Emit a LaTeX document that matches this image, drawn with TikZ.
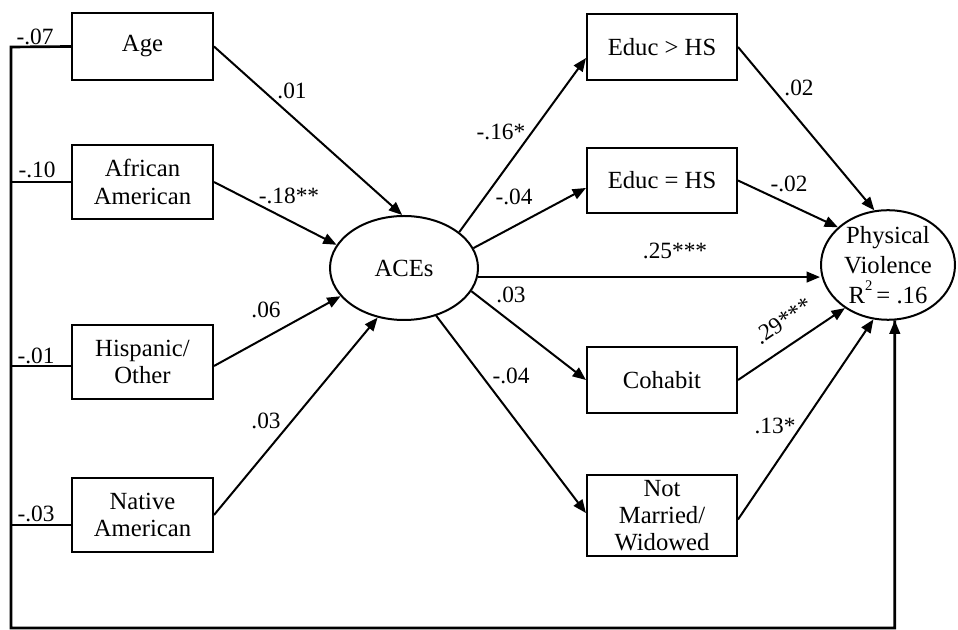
\documentclass[tikz,border=0pt]{standalone}
\usepackage{fontspec}
\setmainfont{Liberation Serif}
\usetikzlibrary{arrows.meta,shapes.geometric}
\begin{document}
\begin{tikzpicture}[x=0.75pt,y=-0.75pt,
  every node/.style={font=\fontsize{17.5}{20}\selectfont},
  box/.style={draw,line width=1.5pt,rectangle,inner sep=0pt,align=center,font=\fontsize{18.5}{20.5}\selectfont},
  lbox/.style={box,minimum width=105.75pt},
  rbox/.style={box,minimum width=112.5pt},
  oval/.style={draw,line width=1.5pt,ellipse,inner sep=0pt,align=center},
  arr/.style={line width=1.5pt,-{Triangle[length=10pt,width=8pt]}},
  ln/.style={line width=2pt},
  lab/.style={inner sep=0pt}]
\useasboundingbox (0,0) rectangle (958,630);
% left boxes
\node[lbox,minimum height=50.25pt] (age) at (142.5,46.5) {Age};
\node[lbox,minimum height=55.5pt] (afr) at (142.5,182) {African\\American};
\node[lbox,minimum height=55.5pt] (his) at (142.5,362) {Hispanic/\\Other};
\node[lbox,minimum height=55.5pt] (nat) at (142.5,515) {Native\\American};
% ellipses
\node[oval,minimum width=111pt,minimum height=78pt,font=\fontsize{18.5}{20.5}\selectfont] (aces) at (404,268) {ACEs};
\node[oval,minimum width=100.5pt,minimum height=81pt,font=\fontsize{18.5}{22.5}\selectfont] (pv) at (888,265)
  {Physical\\Violence\\R\raisebox{1.1ex}{\fontsize{11}{11}\selectfont 2}\,= .16};
% right boxes
\node[rbox,minimum height=49.5pt] (egt) at (662,47) {Educ {>} HS};
\node[rbox,minimum height=48.75pt] (eeq) at (662,180.5) {Educ = HS};
\node[rbox,minimum height=49.5pt] (coh) at (662,380) {Cohabit};
\node[rbox,minimum height=60.75pt] (nmw) at (662,515.5) {Not\\Married/\\Widowed};
% left spine
\coordinate (tl) at (11,47);
\coordinate (bl) at (11,628);
\draw[ln] (age.west) -- (tl) -- (bl) -| (pv.277);
\draw[arr] (bl -| pv.277) -- (pv.277);
\draw[ln] (afr.west) -- (afr.west -| tl);
\draw[ln] ([yshift=-3pt]his.west) -- ([yshift=-3pt]his.west -| tl);
\draw[ln] ([yshift=-7.5pt]nat.west) -- ([yshift=-7.5pt]nat.west -| tl);
% left arrows
\draw[arr] (age.east) -- (aces.92);
\draw[arr] (afr.east) -- (aces.161);
\draw[arr] ([yshift=-3pt]his.east) -- (aces.204);
\draw[arr] (nat.east) -- (aces.242);
% aces out
\draw[arr] (aces.33) -- ([yshift=-8.25pt]egt.west);
\draw[arr] (aces.16) -- ([yshift=-5.6pt]eeq.west);
\draw[arr] (aces.-7) -- (aces.-7 -| pv.west);
\draw[arr] (aces.-19) -- (coh.west);
\draw[arr] (aces.-56.6) -- ([yshift=1.8pt]nmw.west);
% right to pv
\draw[arr] (egt.east) -- (pv.104);
\draw[arr] (eeq.east) -- (pv.143);
\draw[arr] (coh.east) -- (pv.225);
\draw[arr] ([yshift=-3pt]nmw.east) -- (pv.255);
% labels
\node[lab] (l1) at (35,37) {-.07};
\node[lab] (l2) at (37,170) {-.10};
\node[lab] (l3) at (36,356) {-.01};
\node[lab] (l4) at (36,514) {-.03};
\node[lab] (l5) at (292,91) {.01};
\node[lab] (l6) at (289,196) {-.18**};
\node[lab] (l7) at (266,310) {.06};
\node[lab] (l8) at (266,421) {.03};
\node[lab] (l9) at (501,132) {-.16*};
\node[lab] (l10) at (514,197) {-.04};
\node[lab] (l11) at (675,251) {.25***};
\node[lab] (l12) at (511,295) {.03};
\node[lab] (l13) at (511,376) {-.04};
\node[lab] (l14) at (799,88) {.02};
\node[lab] (l15) at (789,184) {-.02};
\node[lab,rotate=34] (l16) at (783,321) {.29***};
\node[lab] (l17) at (775,426) {.13*};
\end{tikzpicture}
\end{document}
